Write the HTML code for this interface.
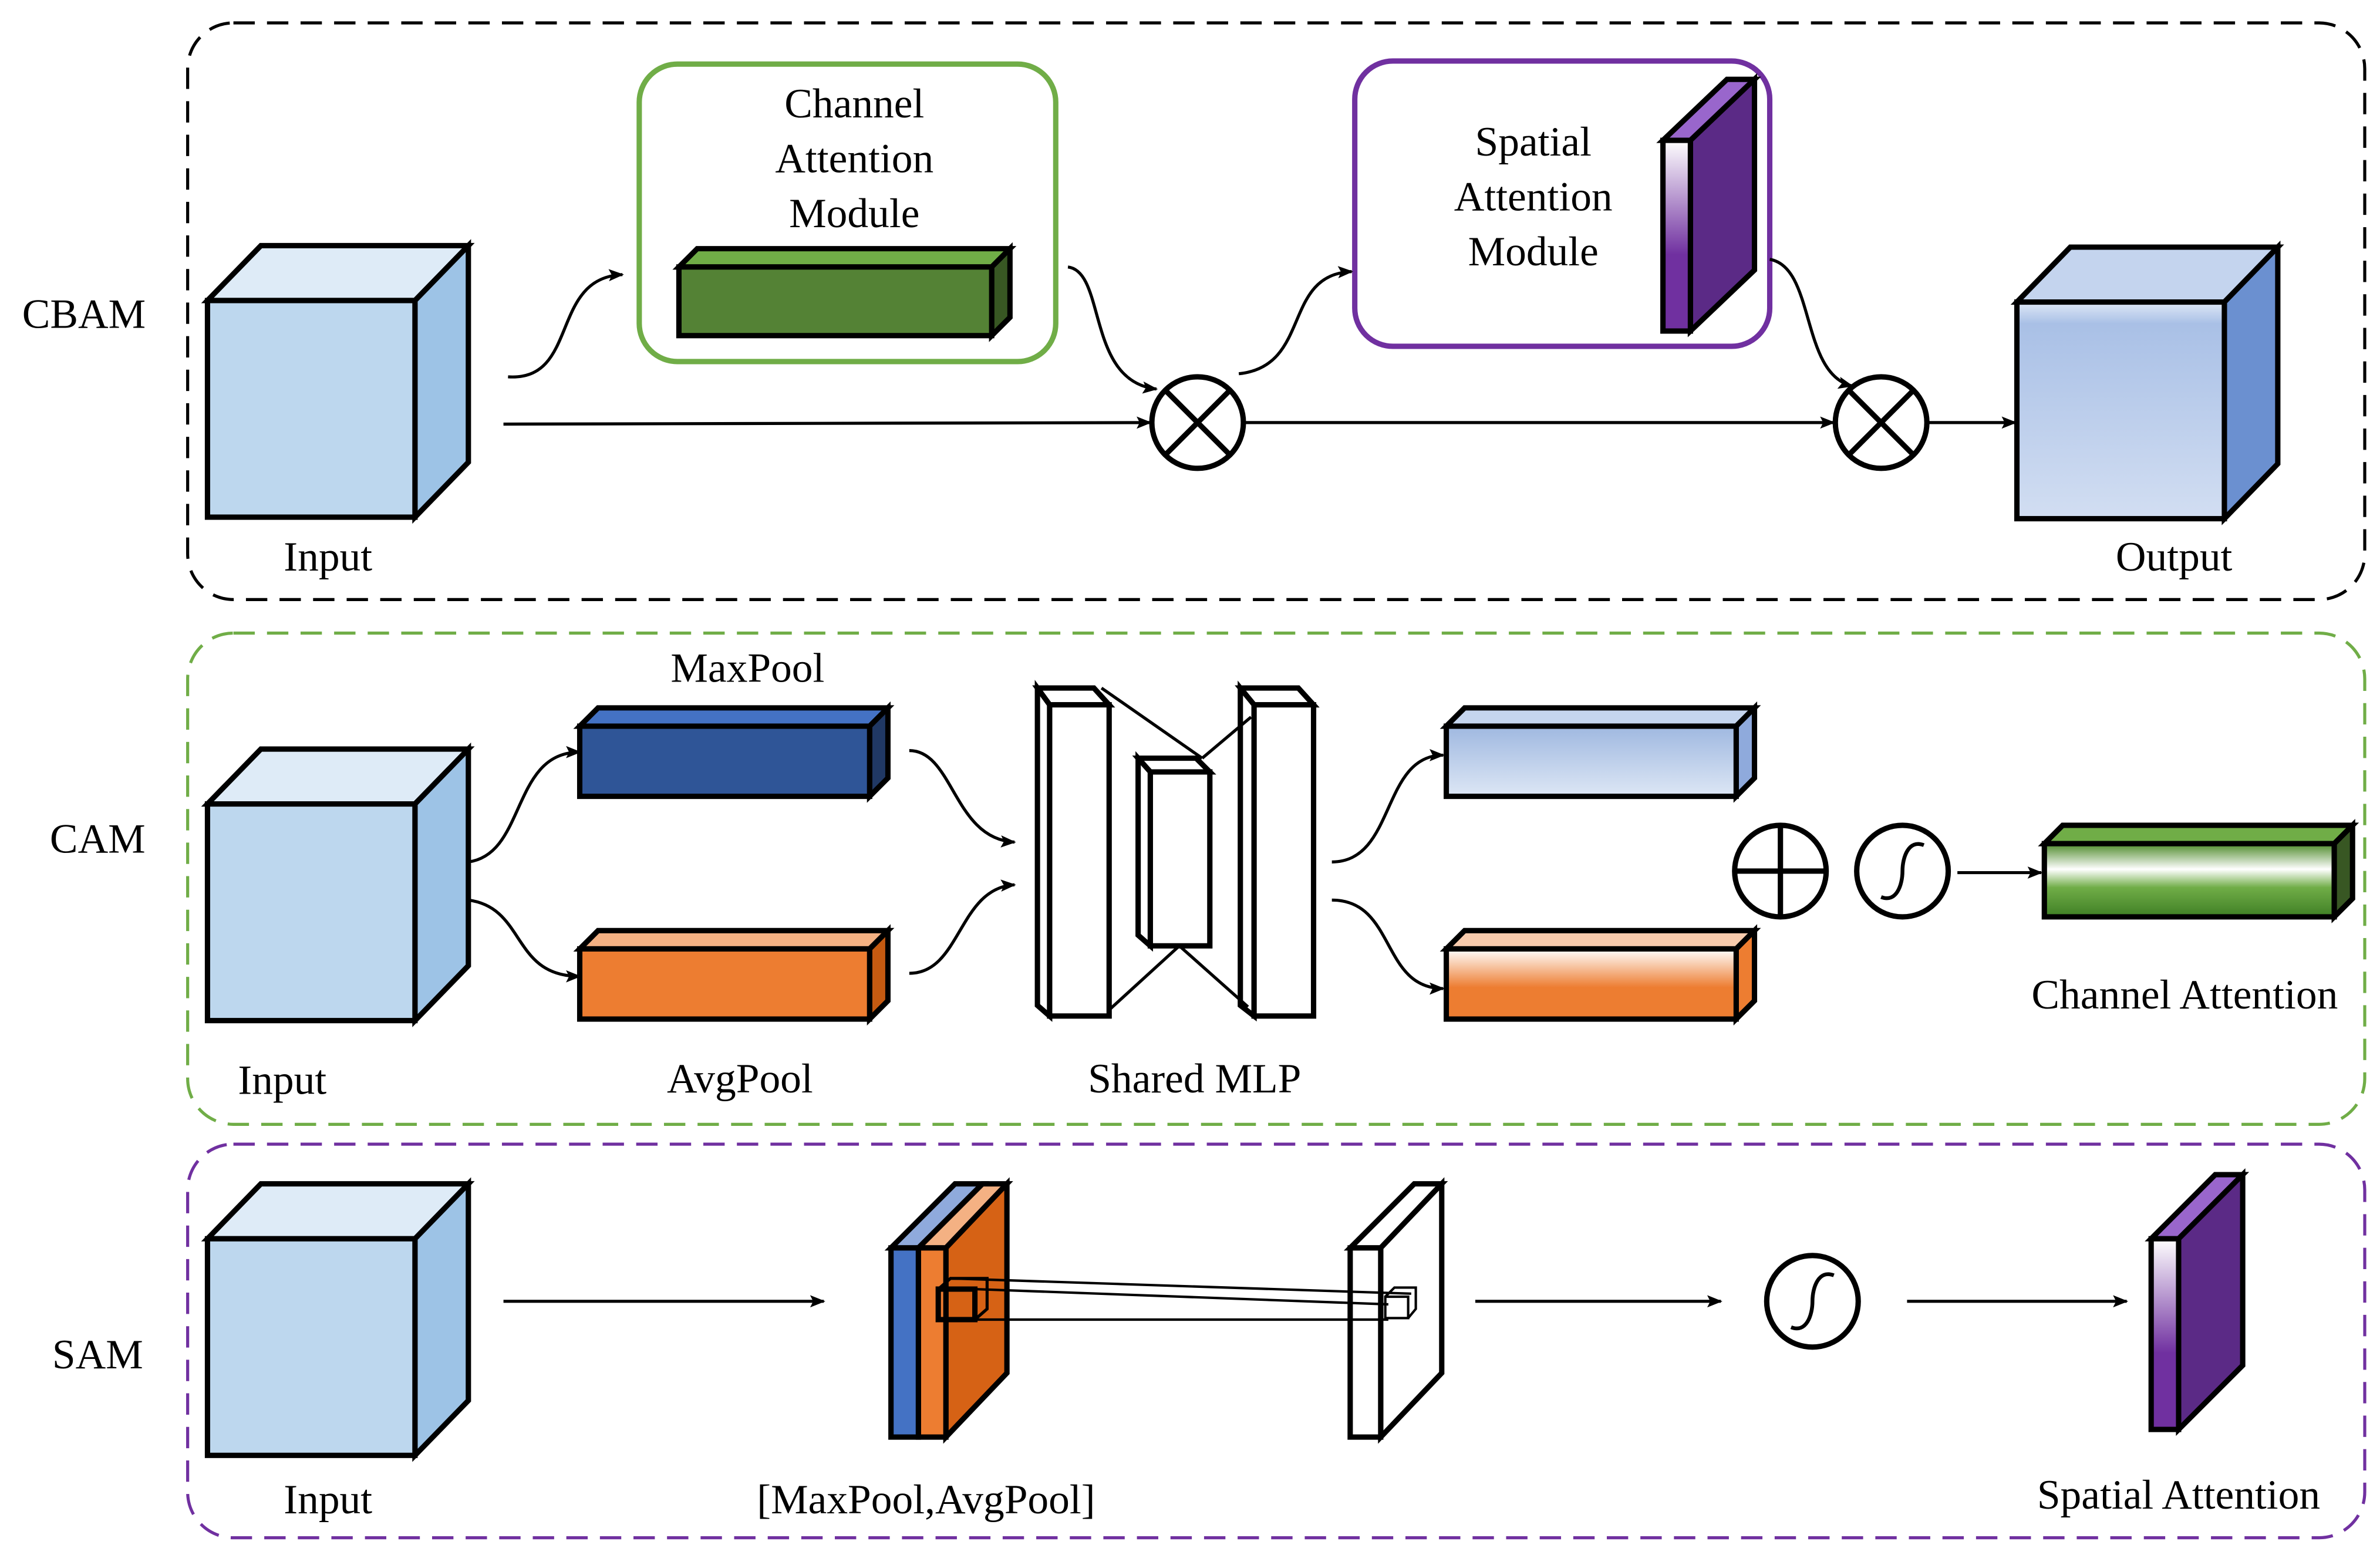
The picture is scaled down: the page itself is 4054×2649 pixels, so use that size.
<!DOCTYPE html>
<html><head><meta charset="utf-8"><style>
html,body{margin:0;padding:0;background:#fff;}
svg{display:block;}
text{font-family:"Liberation Serif",serif;font-size:27.5px;fill:#000;}
</style></head><body>
<svg width="4054" height="2649" viewBox="0 0 1560 1019.3" preserveAspectRatio="none" xmlns="http://www.w3.org/2000/svg">
<defs>
<marker id="a" markerWidth="10" markerHeight="8" refX="9" refY="4" orient="auto" markerUnits="userSpaceOnUse" viewBox="0 0 10 8"><path d="M0,0 L10,4 L0,8 L2,4 Z" fill="#000"/></marker>
<linearGradient id="gOut" x1="0" y1="0" x2="0" y2="1"><stop offset="0" stop-color="#dfe8f6"/><stop offset="0.1" stop-color="#a9c0e6"/><stop offset="1" stop-color="#d2def2"/></linearGradient>
<linearGradient id="gBlue" x1="0" y1="0" x2="0" y2="1"><stop offset="0" stop-color="#9fb8e0"/><stop offset="1" stop-color="#dde7f5"/></linearGradient>
<linearGradient id="gOr" x1="0" y1="0" x2="0" y2="1"><stop offset="0" stop-color="#fff"/><stop offset="0.55" stop-color="#ed7d31"/><stop offset="1" stop-color="#ed7d31"/></linearGradient>
<linearGradient id="gGr" x1="0" y1="0" x2="0" y2="1"><stop offset="0" stop-color="#4d8a2a"/><stop offset="0.35" stop-color="#fff"/><stop offset="0.6" stop-color="#70ad47"/><stop offset="1" stop-color="#3f7f25"/></linearGradient>
<linearGradient id="gPu" x1="0" y1="0" x2="0" y2="1"><stop offset="0" stop-color="#fff"/><stop offset="0.6" stop-color="#7030a0"/><stop offset="1" stop-color="#7030a0"/></linearGradient>
</defs>
<g fill="none" stroke-width="2" stroke-dasharray="14,8">
<rect x="123" y="15" width="1427" height="378" rx="30" stroke="#000"/>
<rect x="123" y="415" width="1427" height="322" rx="30" stroke="#70ad47"/>
<rect x="123" y="750" width="1427" height="258" rx="30" stroke="#7030a0"/>
</g>
<g stroke="#000" stroke-width="3.5" stroke-linejoin="miter">
<g id="cube">
<polygon points="136,197 171,161 307,161 272,197" fill="#deebf7"/>
<polygon points="272,197 307,161 307,303 272,339" fill="#9dc3e6"/>
<rect x="136" y="197" width="136" height="142" fill="#bdd7ee"/>
</g>
<use href="#cube" y="330"/>
<use href="#cube" y="615"/>
<polygon points="1322,198 1357,162 1493,162 1458,198" fill="#c4d4ee"/>
<polygon points="1458,198 1493,162 1493,304 1458,340" fill="#6b90d0"/>
<rect x="1322" y="198" width="136" height="142" fill="url(#gOut)"/>
<rect x="419" y="42" width="273" height="195" rx="25" fill="none" stroke="#70ad47"/>
<rect x="888" y="40" width="272" height="187" rx="25" fill="none" stroke="#7030a0"/>
<polygon points="445,175 457,163 662,163 650,175" fill="#70ad47"/>
<polygon points="650,175 662,163 662,208 650,220" fill="#385723"/>
<rect x="445" y="175" width="205" height="45" fill="#548235"/>
<polygon points="1090,92 1132,52 1150,52 1108,92" fill="#9966cc"/>
<polygon points="1108,92 1150,52 1150,177 1108,217" fill="#5b2a86"/>
<rect x="1090" y="92" width="18" height="125" fill="url(#gPu)"/>
<polygon points="380,476 392,464 582,464 570,476" fill="#4472c4"/>
<polygon points="570,476 582,464 582,510 570,522" fill="#203864"/>
<rect x="380" y="476" width="190" height="46" fill="#2f5597"/>
<polygon points="380,622 392,610 582,610 570,622" fill="#f4b183"/>
<polygon points="570,622 582,610 582,656 570,668" fill="#c55a11"/>
<rect x="380" y="622" width="190" height="46" fill="#ed7d31"/>
<polygon points="948,476 960,464 1150,464 1138,476" fill="#c5d5ee"/>
<polygon points="1138,476 1150,464 1150,510 1138,522" fill="#8faadc"/>
<rect x="948" y="476" width="190" height="46" fill="url(#gBlue)"/>
<polygon points="948,622 960,610 1150,610 1138,622" fill="#f8cbad"/>
<polygon points="1138,622 1150,610 1150,656 1138,668" fill="#ed7d31"/>
<rect x="948" y="622" width="190" height="46" fill="url(#gOr)"/>
<polygon points="1340,553 1352,541 1542,541 1530,553" fill="#70ad47"/>
<polygon points="1530,553 1542,541 1542,589 1530,601" fill="#385723"/>
<rect x="1340" y="553" width="190" height="48" fill="url(#gGr)"/>
<g fill="#fff">
<polygon points="680,451 717,451 727,462 688,462"/><polygon points="680,451 688,462 688,666 680,659"/><rect x="688" y="462" width="39" height="204"/>
<polygon points="746,497 784,497 793,506 754,506"/><polygon points="746,497 754,506 754,620 746,613"/><rect x="754" y="506" width="39" height="114"/>
<polygon points="813,451 851,451 861,462 822,462"/><polygon points="813,451 822,462 822,666 813,659"/><rect x="822" y="462" width="39" height="204"/>
</g>
<g stroke-width="2"><line x1="722" y1="451" x2="788" y2="497"/><line x1="788" y1="497" x2="820" y2="470"/><line x1="727" y1="662" x2="773" y2="620"/><line x1="773" y1="620" x2="818" y2="660"/></g>
<polygon points="584,818 626,776 644,776 602,818" fill="#8faadc"/>
<polygon points="602,818 644,776 660,776 620,818" fill="#f4b183"/>
<polygon points="620,818 660,776 660,900 620,942" fill="#d66215"/>
<rect x="584" y="818" width="18" height="124" fill="#4472c4"/>
<rect x="602" y="818" width="18" height="124" fill="#ed7d31"/>
<rect x="615" y="845" width="24" height="20" fill="none"/>
<polyline points="615,845 623,838 647,838 647,858 639,865" fill="none" stroke-width="2"/>
<polygon points="885,818 927,776 945,776 905,818" fill="#fff"/>
<polygon points="905,818 945,776 945,900 905,942" fill="#fff"/>
<rect x="885" y="818" width="20" height="124" fill="#fff"/>
<g stroke-width="1.6"><line x1="623" y1="838" x2="925" y2="848"/><line x1="639" y1="845" x2="910" y2="855"/><line x1="639" y1="865" x2="910" y2="865"/>
<rect x="908" y="850" width="15" height="14" fill="none"/><polyline points="908,850 914,844 928,844 928,858 923,864" fill="none"/></g>
<polygon points="1410,812 1452,770 1470,770 1428,812" fill="#9966cc"/>
<polygon points="1428,812 1470,770 1470,895 1428,937" fill="#5b2a86"/>
<rect x="1410" y="812" width="18" height="125" fill="url(#gPu)"/>
<circle cx="785" cy="277" r="30" fill="#fff"/><path d="M764,256 L806,298 M806,256 L764,298"/>
<circle cx="1233" cy="277" r="30" fill="#fff"/><path d="M1212,256 L1254,298 M1254,256 L1212,298"/>
<circle cx="1167" cy="571" r="30" fill="#fff"/><path d="M1137,571 H1197 M1167,541 V601"/>
<circle cx="1247" cy="571" r="30" fill="#fff"/><path d="M1233,588 C1243,592 1247,580 1247,571 C1247,562 1251,550 1261,554" fill="none" stroke-width="2.5"/>
<circle cx="1188" cy="853" r="30" fill="#fff"/><path d="M1174,870 C1184,874 1188,862 1188,853 C1188,844 1192,832 1202,836" fill="none" stroke-width="2.5"/>
</g>
<g stroke="#000" stroke-width="2" fill="none" marker-end="url(#a)">
<line x1="330" y1="278" x2="754" y2="277"/>
<line x1="815" y1="277" x2="1202" y2="277"/>
<line x1="1263" y1="277" x2="1321" y2="277"/>
<path d="M333,247 C380,250 360,182 408,180"/>
<path d="M700,175 C725,178 712,250 758,255"/>
<path d="M812,245 C860,240 840,180 886,178"/>
<path d="M1160,170 C1190,175 1180,245 1214,253"/>
<path d="M307,565 C345,560 335,493 380,493"/>
<path d="M307,590 C345,595 335,640 380,640"/>
<path d="M596,492 C625,492 625,550 665,552"/>
<path d="M596,638 C630,638 628,582 665,580"/>
<path d="M873,565 C915,565 905,495 946,495"/>
<path d="M873,590 C915,590 905,648 946,648"/>
<line x1="1283" y1="572" x2="1338" y2="572"/>
<line x1="330" y1="853" x2="540" y2="853"/>
<line x1="967" y1="853" x2="1128" y2="853"/>
<line x1="1250" y1="853" x2="1394" y2="853"/>
</g>
<g text-anchor="middle">
<text x="55" y="215">CBAM</text>
<text x="215" y="374">Input</text>
<text x="560" y="77">Channel</text><text x="560" y="113">Attention</text><text x="560" y="149">Module</text>
<text x="1005" y="102">Spatial</text><text x="1005" y="138">Attention</text><text x="1005" y="174">Module</text>
<text x="1425" y="374">Output</text>
<text x="64" y="559">CAM</text>
<text x="185" y="717">Input</text>
<text x="490" y="447">MaxPool</text>
<text x="485" y="716">AvgPool</text>
<text x="783" y="716">Shared MLP</text>
<text x="1432" y="661">Channel Attention</text>
<text x="64" y="897">SAM</text>
<text x="215" y="992">Input</text>
<text x="607" y="992">[MaxPool,AvgPool]</text>
<text x="1428" y="989">Spatial Attention</text>
</g>
</svg>
</body></html>
